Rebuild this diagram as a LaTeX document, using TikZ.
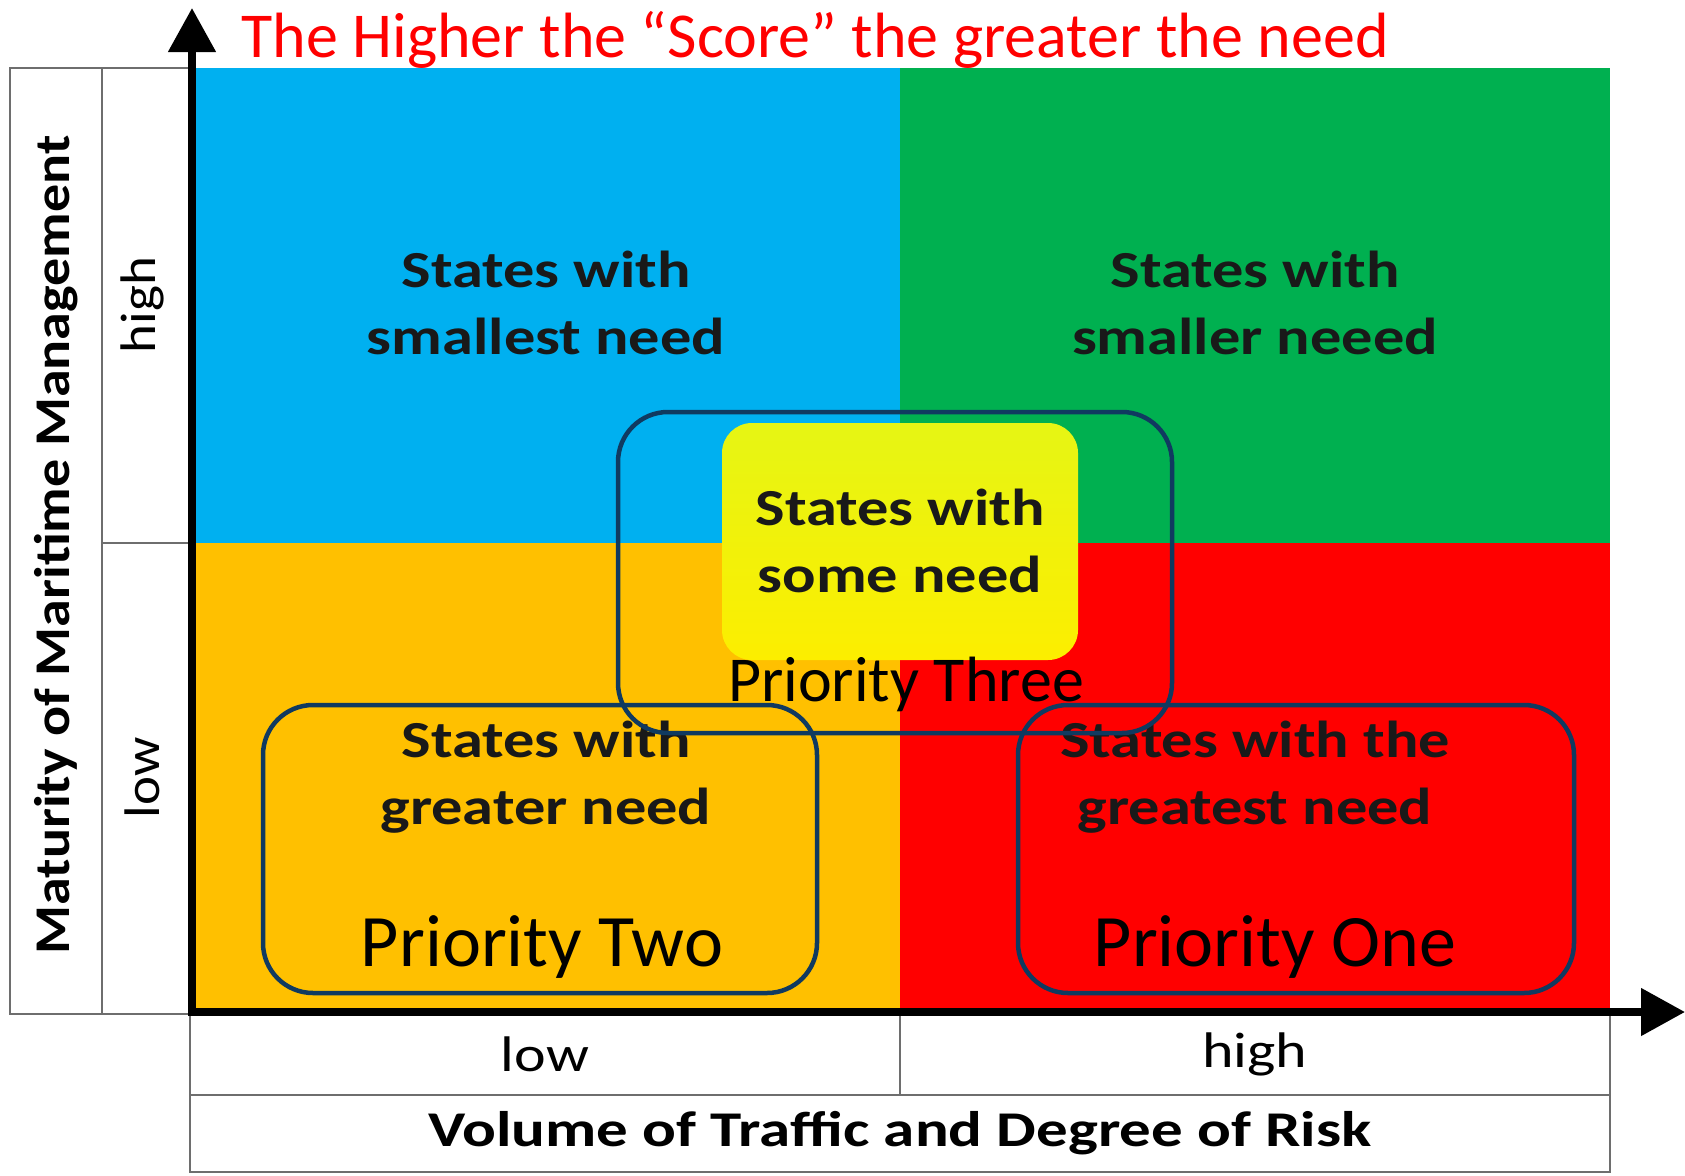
\documentclass[tikz,border=0pt]{standalone}
\usepackage{fontspec}
\setmainfont{Carlito}
\newfontfamily\wideA{Carlito}[FakeStretch=1.2]
\newfontfamily\wideB{Carlito}[FakeStretch=1.26]
\newfontfamily\wideC{Carlito}[FakeStretch=1.12]
\newfontfamily\wideD{Carlito}[FakeStretch=1.1]
\usetikzlibrary{arrows.meta}
\definecolor{qblue}{RGB}{0,176,240}
\definecolor{qgreen}{RGB}{0,176,80}
\definecolor{qorange}{RGB}{255,192,0}
\definecolor{qred}{RGB}{255,0,0}
\definecolor{ytop}{RGB}{230,245,20}
\definecolor{ybot}{RGB}{252,238,0}
\definecolor{navy}{RGB}{16,58,96}
\definecolor{tgray}{RGB}{110,110,110}
\tikzset{
  quadtxt/.style={font=\wideA\fontsize{52}{67}\selectfont\bfseries, align=center, text=black!90},
  prio/.style={draw=navy, line width=4.5pt, rounded corners=50pt},
  tline/.style={draw=tgray, line width=2pt},
  axis/.style={line width=8pt, -{Triangle[length=44pt,width=46pt]}},
  lab/.style={font=\wideA\fontsize{50}{60}\selectfont},
}
\begin{document}
\begin{tikzpicture}[x=1pt,y=-1pt]
\useasboundingbox (0,0) rectangle (1685,1175);
% quadrants
\fill[qblue] (192,68) rectangle (900,543);
\fill[qgreen] (900,68) rectangle (1610,543);
\fill[qorange] (192,543) rectangle (900,1012);
\fill[qred] (900,543) rectangle (1610,1012);
% central yellow box
\shade[top color=ytop, bottom color=ybot, rounded corners=30pt] (722,423) rectangle (1078,660);
% left boxes
\draw[tline, line width=1.5pt] (10,68) rectangle (192,1014);
\draw[tline, line width=1.5pt] (102,68) -- (102,1014);
\draw[tline, line width=1.5pt] (102,543) -- (192,543);
% bottom table
\draw[tline] (190,1012) rectangle (1610,1172);
\draw[tline] (190,1095) -- (1610,1095);
\draw[tline] (900,1012) -- (900,1095);
% axes
\coordinate (o) at (192,1012);
\coordinate (ytip) at (192,8);
\coordinate (xtip) at (1685,1012);
\draw[axis] (192,1016) -- (ytip);
\draw[axis] (188,1012) -- (xtip);
% quadrant texts
\node[quadtxt] (tq1) at (546,303) {States with\\smallest need};
\node[quadtxt] (tq2) at (1255,303) {States with\\smaller neeed};
\node[quadtxt] (tq3) at (546,777) {States with\\greater need};
\node[quadtxt] (tq4) at (1255,777) {States with the\\greatest need};
\node[quadtxt] (tq5) at (900,541) {States with\\some need};
% priority boxes
\draw[prio] (618,412) rectangle (1172,733);
\draw[prio] (263,705) rectangle (817,993);
\draw[prio] (1018,705) rectangle (1574,993);
\node[font=\fontsize{64}{70}\selectfont] (p3) at (906,684) {Priority Three};
\node[font=\fontsize{74}{80}\selectfont] (p2) at (542,947) {Priority Two};
\node[font=\fontsize{74}{80}\selectfont] (p1) at (1275,947) {Priority One};
% title
\node[font=\fontsize{64}{70}\selectfont, text=qred, anchor=west] (title) at (238,40) {The Higher the “Score” the greater the need};
% axis labels
\node[lab] (xlow) at (545,1054) {low};
\node[lab] (xhigh) at (1255,1054) {high};
\node[font=\wideB\fontsize{50}{60}\selectfont\bfseries] (xlab) at (900,1133) {Volume of Traffic and Degree of Risk};
\node[font=\wideD\fontsize{50}{60}\selectfont, rotate=90] (yhigh) at (142,305) {high};
\node[font=\wideD\fontsize{50}{60}\selectfont, rotate=90] (ylow) at (142,778) {low};
\node[font=\wideC\fontsize{50}{60}\selectfont\bfseries, rotate=90] (ylab) at (56,545) {Maturity of Maritime Management};
\end{tikzpicture}
\end{document}
